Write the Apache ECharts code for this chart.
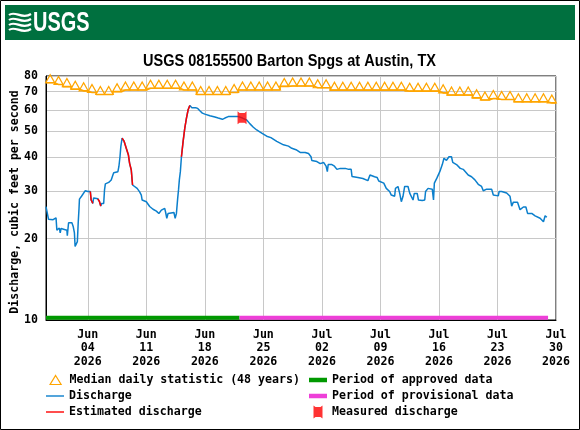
<!DOCTYPE html>
<html><head><meta charset="utf-8">
<script src="https://cdn.jsdelivr.net/npm/echarts@6/dist/echarts.min.js"></script>
<style>html,body{margin:0;padding:0;background:#fff}#c{width:580px;height:430px}</style>
</head><body><div id="c"></div>
<script>
const chartTitle = 'USGS 08155500 Barton Spgs at Austin, TX';
const yAxisName = 'Discharge, cubic feet per second';
const startDay = [2026, 4, 30];          // May 30 2026 (UTC)
const totalDays = 61;                    // axis runs to Jul 30 2026
const xTickDays = [5, 12, 19, 26, 33, 40, 47, 54, 61]; // Jun 04 ... Jul 30
const yTicks = [10, 20, 30, 40, 50, 60, 70, 80];
const monthNames = ['Jan','Feb','Mar','Apr','May','Jun','Jul','Aug','Sep','Oct','Nov','Dec'];

// Median daily statistic, one value per day starting May 30
const medianValues = [75.5, 74.4, 73.1, 71.5, 70.5, 69.5, 68.3, 68.3, 70.0, 71.0,
  71.0, 71.0, 72.1, 72.1, 72.1, 72.1, 71.0, 71.0, 68.3, 68.3,
  68.3, 68.3, 69.5, 71.0, 71.0, 71.0, 71.0, 71.0, 73.2, 73.5,
  73.5, 73.5, 72.4, 72.4, 70.9, 70.9, 70.9, 70.9, 70.9, 70.9,
  70.9, 70.9, 70.9, 70.3, 70.3, 70.3, 70.3, 69.3, 68.0, 68.0,
  68.0, 66.4, 65.2, 66.0, 65.5, 65.5, 64.2, 64.2, 64.2, 64.2, 63.6];

// Discharge: day offset from May 30 00:00 and value (cfs)
const dischargeDay = [0.0,0.1,0.3,0.5,0.85,0.95,1.2,1.3,1.5,1.6,1.7,1.8,2.0,2.5,2.55,2.7,3.1,3.25,3.4,3.48,
  3.65,3.75,3.85,3.95,4.0,4.25,4.45,4.7,5.0,5.3,5.4,5.6,5.7,6.2,6.4,6.55,6.65,6.9,7.0,7.1,
  7.5,7.8,8.0,8.1,8.6,8.72,8.85,8.95,9.1,9.35,9.6,9.85,10.0,10.2,10.35,10.5,10.9,11.2,11.4,11.5,
  11.7,12.0,12.4,12.8,13.2,13.5,13.8,14.2,14.3,14.45,14.6,15.3,15.45,15.6,15.75,15.85,15.95,16.07,16.2,16.4,
  16.6,16.8,17.0,17.2,17.45,17.65,17.9,18.15,18.4,18.7,19.0,19.6,20.2,20.6,21.1,21.4,21.8,23.0,23.5,24.0,
  24.4,24.8,25.2,25.8,26.4,26.9,27.6,28.4,29.0,29.4,29.9,30.4,31.0,31.4,31.7,31.8,32.4,32.8,33.2,33.5,
  33.65,33.75,34.2,34.5,34.8,35.2,35.8,36.2,36.5,36.6,36.8,37.3,37.9,38.5,38.75,39.3,39.6,39.8,40.4,40.7,
  40.9,41.1,41.3,41.7,41.8,42.1,42.3,42.5,42.7,42.9,43.3,43.5,43.9,44.05,44.4,44.55,45.0,45.3,45.4,45.7,
  45.9,46.2,46.35,46.45,46.75,47.1,47.4,47.6,47.9,48.2,48.5,48.65,49.1,49.55,49.9,50.5,50.9,51.3,51.7,52.1,
  52.3,52.7,53.3,53.5,54.1,54.2,54.5,54.7,55.1,55.5,55.7,55.9,56.4,56.7,57.1,57.4,57.6,58.1,58.5,59.1,
  59.5,59.7,59.9];
const dischargeCfs = [26.3,25.9,23.6,23.5,23.5,23.9,23.9,21.5,21.3,21.9,21.0,21.8,21.5,21.5,20.5,22.9,22.9,22.2,21.0,18.7,
  18.6,19.5,22.8,25.9,28.0,28.7,29.0,30.1,29.9,29.9,27.8,27.0,28.3,28.1,27.4,26.4,27.0,27.0,30.3,31.9,
  32.3,33.0,34.4,35.1,35.4,37.0,40.2,43.8,47.1,45.8,43.2,40.9,38.0,35.9,31.6,31.1,30.7,29.8,29.0,27.8,
  27.6,27.4,26.3,25.7,25.3,24.8,25.5,25.9,25.1,23.8,24.8,25.0,23.8,24.8,28.2,30.3,33.0,35.4,40.2,45.8,
  51.3,55.9,60.0,62.2,61.0,60.0,61.0,60.7,59.5,58.3,57.8,57.0,56.4,55.9,55.3,55.9,56.6,56.6,55.9,55.0,
  53.2,51.7,50.5,49.2,47.9,47.3,45.8,44.5,44.0,43.2,42.7,41.7,41.7,41.3,40.2,38.9,38.6,37.9,38.3,37.1,
  35.4,37.6,37.6,37.1,36.1,36.4,36.4,36.1,36.1,34.0,33.7,33.7,33.4,32.8,34.4,33.9,33.7,32.7,32.1,30.7,
  30.3,29.9,29.0,28.7,30.7,31.2,29.5,27.4,28.7,31.2,31.2,29.5,27.8,29.4,29.4,27.8,27.7,27.8,29.9,30.7,
  31.2,30.5,27.8,32.1,33.5,35.4,37.6,39.7,39.0,40.2,40.2,38.3,37.6,36.4,36.1,34.4,33.9,33.0,31.8,31.2,
  30.1,30.5,30.5,29.0,28.8,29.9,29.9,30.1,29.5,28.7,26.4,27.3,27.3,25.6,26.2,26.2,24.8,24.8,24.3,23.8,
  23.1,24.3,24.0];

// Estimated discharge periods (day offsets)
const estimatedRanges = [[5.3, 5.6], [6.2, 6.55], [9.1, 10.35], [16.2, 17.2]];
// Data-approval periods (day offsets)
const approvedPeriod = [0, 23.15];
const provisionalPeriod = [23.15, 60.05];
const periodBarLevel = 10.2;
// Measured discharge
const measuredDay = [23.45];
const measuredCfs = [56.0];

const DAY = 86400000;
const t0 = Date.UTC(startDay[0], startDay[1], startDay[2]);
const ts = d => t0 + d * DAY;

const medianData = [{value: [ts(0), medianValues[0]], symbol: 'none'}]
  .concat(medianValues.map((v, i) => [ts(i + 0.5), v]))
  .concat([{value: [ts(totalDays), medianValues[medianValues.length - 1]], symbol: 'none'}]);
const dischargeData = dischargeDay.map((d, i) => [ts(d), dischargeCfs[i]]);
const estimatedData = [];
estimatedRanges.forEach(r => {
  dischargeDay.forEach((d, i) => { if (d >= r[0] - 1e-9 && d <= r[1] + 1e-9) estimatedData.push([ts(d), dischargeCfs[i]]); });
  estimatedData.push([ts(r[1] + 0.01), null]);
});
const approvedData = approvedPeriod.map(d => [ts(d), periodBarLevel]);
const provisionalData = provisionalPeriod.map(d => [ts(d), periodBarLevel]);
const measuredData = measuredDay.map((d, i) => [ts(d), measuredCfs[i]]);

const MONO = '"DejaVu Sans Mono", monospace';
const FS = 11.6;
const txt = {fontFamily: MONO, fontWeight: 'bold', fontSize: FS, color: '#000'};
const measuredSymbol = 'path://M0,0 L2,1.6 L7,1.6 L9,0 L9,13 L7,11.4 L2,11.4 L0,13 Z';
const ORANGE = '#FFA500', BLUE = '#0B7FCC', RED = '#FF0000', GREEN = '#009900', PINK = '#EE3FD8';

function legend(item, left, top, itemHeight) {
  return {
    left: left, top: top, orient: 'vertical', itemWidth: 18, itemHeight: itemHeight || 12,
    symbolKeepAspect: true,
    selectedMode: false, padding: 0, textStyle: Object.assign({lineHeight: 14}, txt),
    data: [item]
  };
}
function wave(y) {
  return {type: 'bezierCurve', shape: {x1: 9, y1: y, cpx1: 15, cpy1: y - 5, cpx2: 22, cpy2: y + 5, x2: 31, y2: y - 1},
    style: {fill: 'none', stroke: '#fff', lineWidth: 2.2}, silent: true};
}

const chart = echarts.init(document.getElementById('c'), null, {renderer: 'canvas'});
chart.setOption({
  animation: false,
  backgroundColor: '#fff',
  grid: {left: 46, right: 24, top: 76, bottom: 110, show: true, borderColor: '#000', borderWidth: 1,
    containLabel: false, outerBoundsMode: 'none'},
  xAxis: {
    type: 'value', min: ts(0), max: ts(totalDays),
    axisLine: {show: true, lineStyle: {color: '#000', width: 1}},
    axisTick: {show: false, customValues: xTickDays.map(ts)},
    splitLine: {show: true, lineStyle: {color: '#c8c8c8', width: 1}},
    axisLabel: Object.assign({
      customValues: xTickDays.map(ts), margin: 8, lineHeight: 13.5, showMinLabel: true, showMaxLabel: true,
      formatter: v => { const d = new Date(v); return monthNames[d.getUTCMonth()] + '\n' + String(d.getUTCDate()).padStart(2, '0') + '\n' + d.getUTCFullYear(); }
    }, txt)
  },
  yAxis: {
    type: 'log', logBase: 10, min: 10, max: 80,
    name: yAxisName, nameLocation: 'middle', nameGap: 25, nameRotate: 90, nameMoveOverlap: false,
    nameTextStyle: Object.assign({padding: [0, 8, 0, 0]}, txt),
    axisLine: {show: true, lineStyle: {color: '#000', width: 1}},
    axisTick: {show: false, customValues: yTicks},
    splitLine: {show: true, lineStyle: {color: '#c8c8c8', width: 1}},
    axisLabel: Object.assign({customValues: yTicks, margin: 8, formatter: v => String(Math.round(v))}, txt)
  },
  legend: [
    legend({name: 'Median daily statistic (48 years)', icon: 'path://M0,0 M18,10 M9,0.5 L14.5,9.5 L3.5,9.5 Z', itemStyle: {color: '#fff', borderColor: ORANGE, borderWidth: 1.2}}, 46, 373, 10),
    legend({name: 'Discharge', icon: 'path://M0,0 H18 V1.4 H0 Z', itemStyle: {color: BLUE, borderWidth: 0}}, 46, 389),
    legend({name: 'Estimated discharge', icon: 'path://M0,0 H18 V1.4 H0 Z', itemStyle: {color: RED, borderWidth: 0}}, 46, 405),
    legend({name: 'Period of approved data', icon: 'path://M0,0 H18 V4.5 H0 Z', itemStyle: {color: GREEN, borderWidth: 0}}, 309, 373),
    legend({name: 'Period of provisional data', icon: 'path://M0,0 H18 V4.5 H0 Z', itemStyle: {color: PINK, borderWidth: 0}}, 309, 389),
    legend({name: 'Measured discharge', icon: 'path://M0,0 M18,13 M4.5,0 L6.5,1.6 L11.5,1.6 L13.5,0 L13.5,13 L11.5,11.4 L6.5,11.4 L4.5,13 Z', itemStyle: {color: RED, borderWidth: 0}}, 309, 405, 13)
  ],
  graphic: [
    {type: 'rect', shape: {x: 0.5, y: 0.5, width: 579, height: 429}, style: {fill: 'none', stroke: '#000', lineWidth: 1}, silent: true},
    {type: 'rect', shape: {x: 5, y: 5, width: 570, height: 35}, style: {fill: '#00703F'}, silent: true},
    wave(15), wave(20), wave(25), wave(30),
    {type: 'text', x: 33, y: 23.5, scaleX: 0.7, style: {text: 'USGS', fill: '#fff', font: 'bold 28.5px "Liberation Sans", Arial, sans-serif', textAlign: 'left', textVerticalAlign: 'middle'}, silent: true},
    {type: 'text', x: 289.5, y: 61, scaleX: 0.88, style: {text: chartTitle, fill: '#000', font: 'bold 16.5px "Liberation Sans", Arial, sans-serif', textAlign: 'center', textVerticalAlign: 'middle'}, silent: true}
  ],
  series: [
    {name: 'Period of approved data', type: 'line', data: approvedData, symbol: 'none', lineStyle: {color: GREEN, width: 4}, itemStyle: {color: GREEN}, z: 4, silent: true},
    {name: 'Period of provisional data', type: 'line', data: provisionalData, symbol: 'none', lineStyle: {color: PINK, width: 4}, itemStyle: {color: PINK}, z: 4, silent: true},
    {name: 'Median daily statistic (48 years)', type: 'line', step: 'middle', data: medianData,
      symbol: 'triangle', symbolSize: [9, 8], symbolOffset: [0, -4], showAllSymbol: true,
      lineStyle: {color: ORANGE, width: 1.6}, itemStyle: {color: 'rgba(255,255,255,0)', borderColor: ORANGE, borderWidth: 1.2}, z: 3, silent: true},
    {name: 'Discharge', type: 'line', data: dischargeData, symbol: 'none', lineStyle: {color: BLUE, width: 1.5}, itemStyle: {color: BLUE}, z: 5, silent: true},
    {name: 'Estimated discharge', type: 'line', data: estimatedData, symbol: 'none', connectNulls: false, lineStyle: {color: RED, width: 1.5}, itemStyle: {color: RED}, z: 6, silent: true},
    {name: 'Measured discharge', type: 'scatter', data: measuredData, symbol: measuredSymbol, symbolSize: [9, 13], itemStyle: {color: RED}, z: 7, silent: true}
  ]
});
</script></body></html>
